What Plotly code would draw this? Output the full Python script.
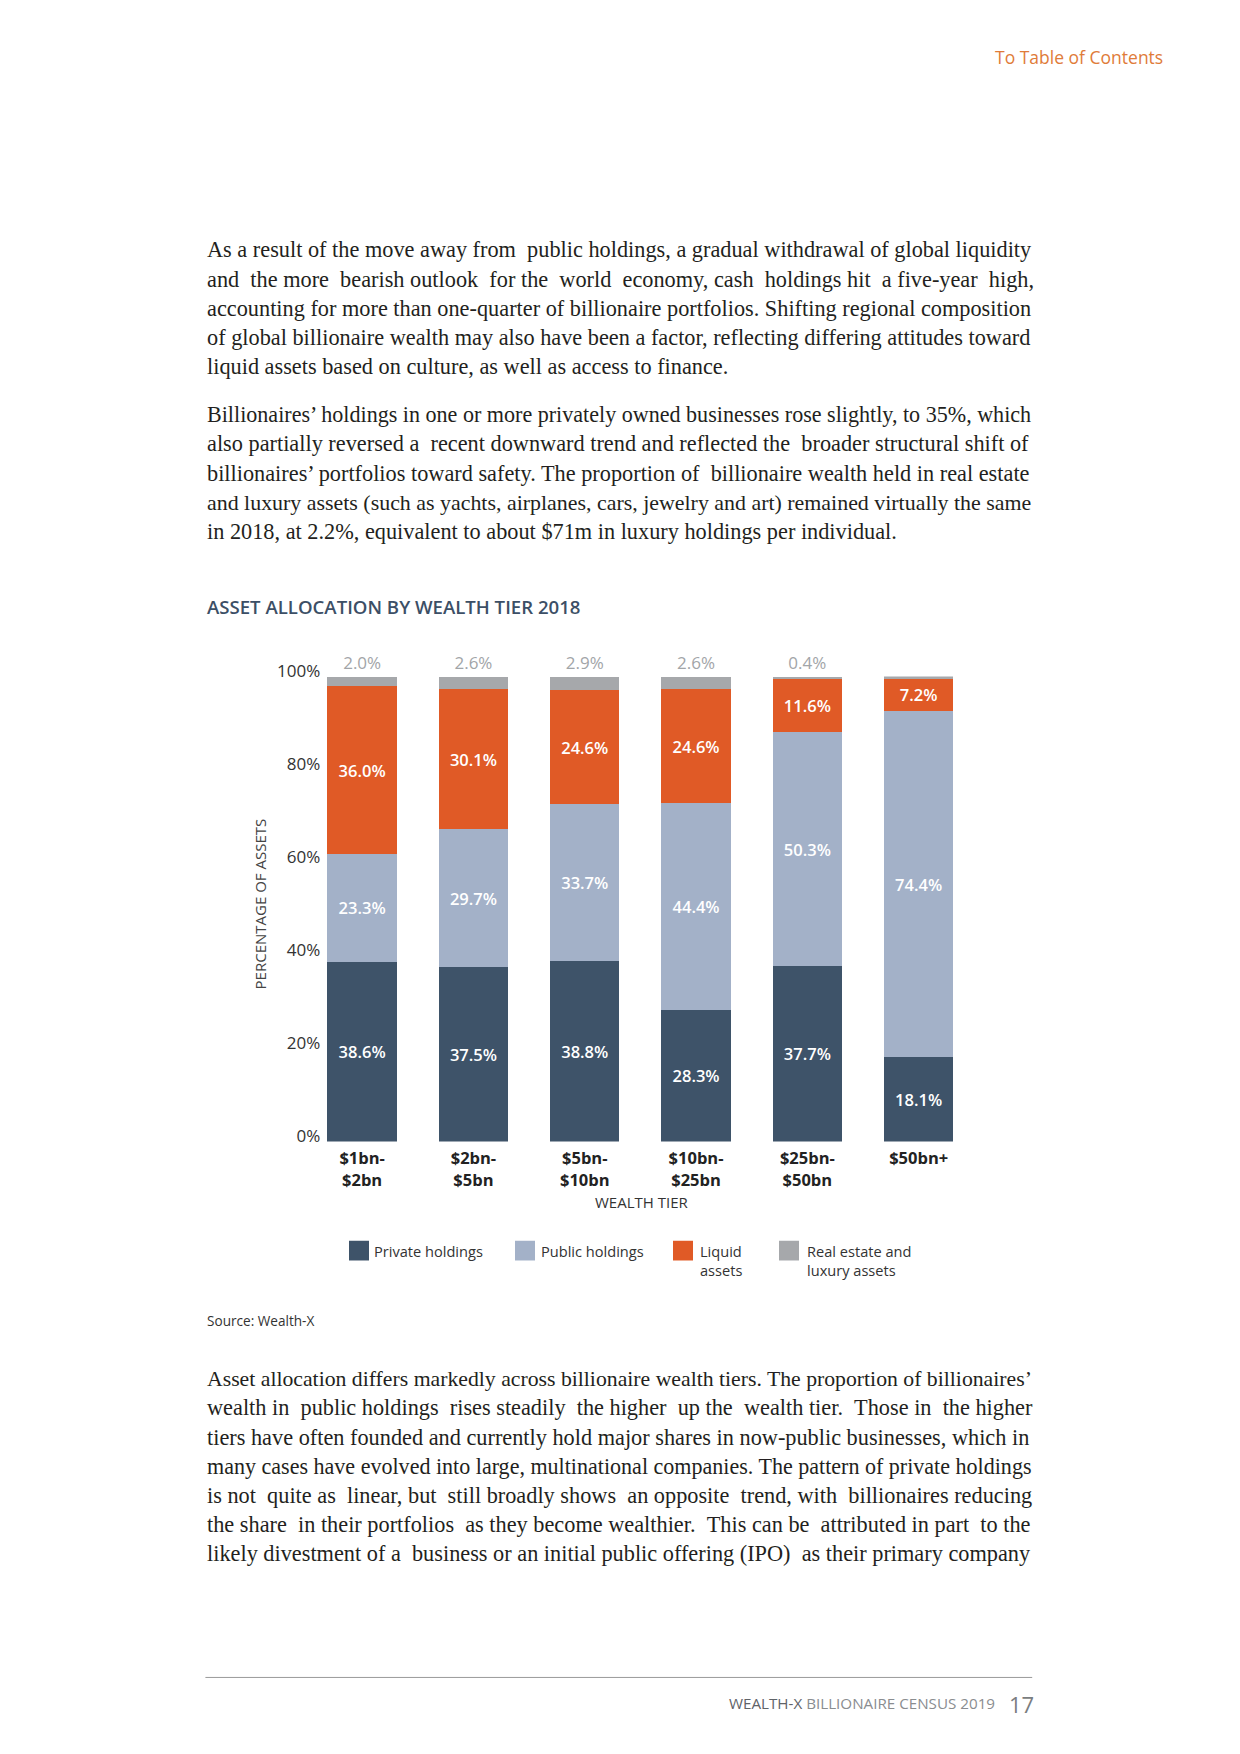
import plotly.graph_objects as go

W, H = 1240, 1754

# ---- data ----
tiers = ["$1bn-<br>$2bn", "$2bn-<br>$5bn", "$5bn-<br>$10bn", "$10bn-<br>$25bn", "$25bn-<br>$50bn", "$50bn+"]
private_holdings = [38.6, 37.5, 38.8, 28.3, 37.7, 18.1]
public_holdings = [23.3, 29.7, 33.7, 44.4, 50.3, 74.4]
liquid_assets = [36.0, 30.1, 24.6, 24.6, 11.6, 7.2]
real_estate = [2.0, 2.6, 2.9, 2.6, 0.4, 0.4]
series_names = ["Private holdings", "Public holdings", "Liquid<br>assets", "Real estate and<br>luxury assets"]
y_ticks = [0, 20, 40, 60, 80, 100]
y_ticktext = ["0%", "20%", "40%", "60%", "80%", "100%"]

colors = ["#3e5369", "#a3b1c8", "#e05a26", "#a6a8ab"]
SANS = "Open Sans"
SERIF = "Liberation Serif"

def px(x):
    return x / W

def py(y):
    return 1 - y / H

fig = go.Figure()
series = [private_holdings, public_holdings, liquid_assets]
for vals, name, col in zip(series, series_names[:3], colors[:3]):
    fig.add_trace(go.Bar(
        x=tiers, y=vals, name=name, marker=dict(color=col, line=dict(width=0)),
        text=[f"{v:.1f}%" for v in vals], textposition="inside", insidetextanchor="middle",
        textangle=0, constraintext="none",
        insidetextfont=dict(family=SANS, size=16.5, color="white", weight=600),
        showlegend=False, cliponaxis=False,
    ))
fig.add_trace(go.Bar(
    x=tiers, y=real_estate, name=series_names[3], marker=dict(color=colors[3], line=dict(width=0)),
    text=[f"{v:.1f}%" for v in real_estate], textposition="outside", textangle=0,
    constraintext="none",
    outsidetextfont=dict(family=SANS, size=17, color="#a2a5a8"),
    showlegend=False, cliponaxis=False,
))

fig.update_layout(
    width=W, height=H, autosize=False,
    margin=dict(l=0, r=0, t=0, b=0),
    paper_bgcolor="white", plot_bgcolor="white",
    barmode="stack", bargap=0.377,
    xaxis=dict(domain=[px(324.3), px(974.3)], range=[-0.34, 5.5], showgrid=False, zeroline=False,
               showline=False, ticks="", ticklabelstandoff=5,
               tickfont=dict(family=SANS, size=16.5, color="#222222", weight=700),
               fixedrange=True),
    yaxis=dict(domain=[py(1138.5), py(667.3)], range=[0, 100], tickvals=y_ticks, ticktext=y_ticktext,
               showgrid=False, zeroline=False, showline=False, ticks="",
               ticklabelshift=-6, ticklabelstandoff=3,
               tickfont=dict(family=SANS, size=17, color="#333333"), fixedrange=True),
    showlegend=False,
)

ann = []
shapes = []

def text(x, y, s, size, color, family=SANS, xanchor="left", yanchor="middle", weight=None, textangle=0):
    f = dict(family=family, size=size, color=color)
    if weight:
        f["weight"] = weight
    ann.append(dict(x=px(x), y=py(y), xref="paper", yref="paper", text=s, showarrow=False,
                    xanchor=xanchor, yanchor=yanchor, font=f, align="left", textangle=textangle))

def justify(line, n_extra):
    # widen word gaps with non-breaking spaces to imitate justified text
    words = line.split(" ")
    gaps = len(words) - 1
    if n_extra <= 0 or gaps <= 0:
        return line
    extra = [0] * gaps
    for j in range(n_extra):
        extra[min(gaps - 1, int((j + 0.5) * gaps / n_extra))] += 1
    out = words[0]
    for g in range(gaps):
        out += " " + "\u00a0" * extra[g] + words[g + 1]
    return out

LEFT = 205.4

# header
text(1164.7, 39.9, "To Table of Contents", 17.5, "#e07b39", xanchor="right")

# body paragraphs: (text, extra spaces, font size)
BODY = 22.3
p1 = [
    ("As a result of the move away from public holdings, a gradual withdrawal of global liquidity", 1, BODY),
    ("and the more bearish outlook for the world economy, cash holdings hit a five-year high,", 8, BODY),
    ("accounting for more than one-quarter of billionaire portfolios. Shifting regional composition", 0, BODY),
    ("of global billionaire wealth may also have been a factor, reflecting differing attitudes toward", 0, BODY),
    ("liquid assets based on culture, as well as access to finance.", 0, BODY),
]
p2 = [
    ("Billionaires’ holdings in one or more privately owned businesses rose slightly, to 35%, which", 0, 22.09),
    ("also partially reversed a recent downward trend and reflected the broader structural shift of", 2, BODY),
    ("billionaires’ portfolios toward safety. The proportion of billionaire wealth held in real estate", 1, BODY),
    ("and luxury assets (such as yachts, airplanes, cars, jewelry and art) remained virtually the same", 0, 21.91),
    ("in 2018, at 2.2%, equivalent to about $71m in luxury holdings per individual.", 0, BODY),
]
p3 = [
    ("Asset allocation differs markedly across billionaire wealth tiers. The proportion of billionaires’", 0, 21.74),
    ("wealth in public holdings rises steadily the higher up the wealth tier. Those in the higher", 7, BODY),
    ("tiers have often founded and currently hold major shares in now-public businesses, which in", 0, BODY),
    ("many cases have evolved into large, multinational companies. The pattern of private holdings", 0, 22.06),
    ("is not quite as linear, but still broadly shows an opposite trend, with billionaires reducing", 6, BODY),
    ("the share in their portfolios as they become wealthier. This can be attributed in part to the", 5, BODY),
    ("likely divestment of a business or an initial public offering (IPO) as their primary company", 2, BODY),
]
for start, step, lines in [(234.8, 29.67, p1), (401.9, 29.67, p2), (1379.0, 29.46, p3)]:
    for i, (line, n_extra, size) in enumerate(lines):
        text(LEFT, start + i * step, justify(line, n_extra), size, "#231f20", family=SERIF)

# chart title
text(LEFT, 596.0, "ASSET ALLOCATION BY WEALTH TIER 2018", 18.6, "#3c4f66", weight=600)

# axis titles
text(259.7, 897.5, "PERCENTAGE OF ASSETS", 15, "#444444", xanchor="center", textangle=-90)
text(642.4, 1199.5, "WEALTH TIER", 15, "#333333", xanchor="center")

# legend
leg_sq = [349, 515, 673, 779]
leg_tx = [372, 539, 698, 805]
for sx, tx, name, col in zip(leg_sq, leg_tx, series_names, colors):
    shapes.append(dict(type="rect", xref="paper", yref="paper", x0=px(sx), x1=px(sx + 20),
                       y0=py(1259), y1=py(1239), fillcolor=col, line=dict(width=0)))
    ann.append(dict(x=px(tx), y=py(1237), xref="paper", yref="paper", text=name, showarrow=False,
                    xanchor="left", yanchor="top", align="left",
                    font=dict(family=SANS, size=14.6, color="#333333")))

# source
text(LEFT, 1319.5, "Source: Wealth-X", 13.6, "#333333")

# footer
shapes.append(dict(type="line", xref="paper", yref="paper", x0=px(LEFT), x1=px(1032.2),
                   y0=py(1681.5), y1=py(1681.5), line=dict(color="#9a9a9a", width=1)))
text(997, 1707, "<span style='color:#5f6368'>WEALTH-X</span> BILLIONAIRE CENSUS 2019", 15.2, "#8a8d90",
     xanchor="right")
text(1036, 1708, "17", 22, "#7a7d80", xanchor="right")

fig.update_layout(annotations=ann, shapes=shapes)

# pin the figure to the top-left corner of the page so it maps onto the 1240x1754 window
pin = (
    "document.body.style.margin='0px';"
    "var gd=document.querySelector('.plotly-graph-div');"
    "if(gd){gd.style.position='fixed';gd.style.left='0px';gd.style.top='0px';}"
)
fig.write_html("out.html", post_script=pin, config={"displayModeBar": False})
